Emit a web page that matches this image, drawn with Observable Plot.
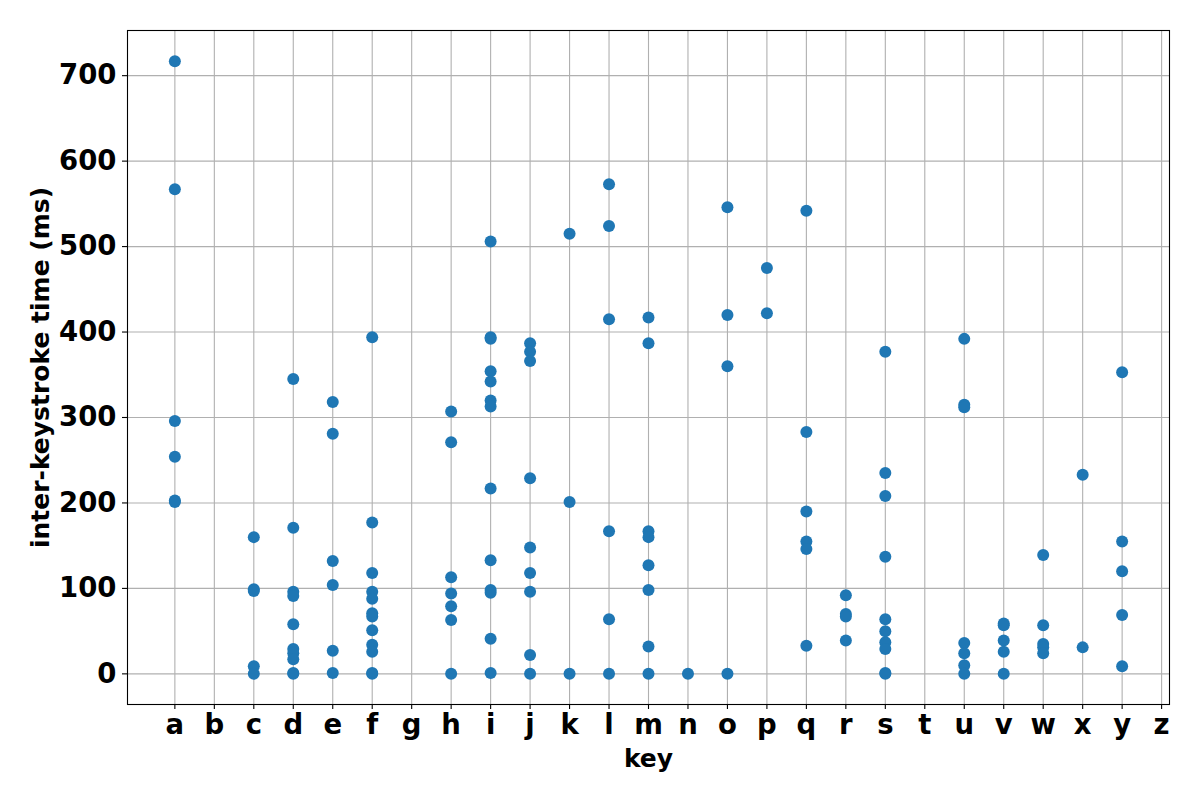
<!DOCTYPE html>
<html>
<head>
<meta charset="utf-8">
<script src="https://cdn.jsdelivr.net/npm/d3@7"></script>
<script src="https://cdn.jsdelivr.net/npm/@observablehq/plot@0.6"></script>
<style>
  html, body { margin: 0; padding: 0; background: #fff; }
  #chart svg { display: block; }
</style>
</head>
<body>
<div id="chart"></div>
<script>
// Category labels (x axis)
const keys = ["a","b","c","d","e","f","g","h","i","j","k","l","m","n","o","p","q","r","s","t","u","v","w","x","y","z"];

// Inter-keystroke times (ms) observed for each key, in the order of `keys`
const timesA = [717, 567, 296, 254, 203, 201];
const timesB = [];
const timesC = [160, 99, 97, 9, 0];
const timesD = [345, 171, 96, 91, 58, 29, 24, 17, 1, 0];
const timesE = [318, 281, 132, 104, 27, 1];
const timesF = [394, 177, 118, 96, 88, 71, 67, 51, 34, 26, 1, 0];
const timesG = [];
const timesH = [307, 271, 113, 94, 79, 63, 0];
const timesI = [506, 394, 392, 354, 342, 320, 313, 217, 133, 98, 95, 41, 1];
const timesJ = [387, 377, 366, 229, 148, 118, 96, 22, 0];
const timesK = [515, 201, 0];
const timesL = [573, 524, 415, 167, 64, 0];
const timesM = [417, 387, 167, 160, 127, 98, 32, 0];
const timesN = [0];
const timesO = [546, 420, 360, 0];
const timesP = [475, 422];
const timesQ = [542, 283, 190, 155, 146, 33];
const timesR = [92, 70, 67, 39];
const timesS = [377, 235, 208, 137, 64, 50, 37, 29, 1, 0];
const timesT = [];
const timesU = [392, 315, 312, 36, 24, 10, 0];
const timesV = [59, 57, 39, 26, 0];
const timesW = [139, 57, 35, 31, 24];
const timesX = [233, 31];
const timesY = [353, 155, 120, 69, 9];
const timesZ = [];

const timesByKey = [timesA, timesB, timesC, timesD, timesE, timesF, timesG, timesH, timesI, timesJ,
  timesK, timesL, timesM, timesN, timesO, timesP, timesQ, timesR, timesS, timesT, timesU, timesV,
  timesW, timesX, timesY, timesZ];

const yTicks = [0, 100, 200, 300, 400, 500, 600, 700];

const data = keys.flatMap((k, i) => timesByKey[i].map(t => ({i, key: k, t})));

// matplotlib-like autoscale margins (5%) on the data extent
const usedIdx = data.map(d => d.i);
const xMin = d3.min(usedIdx), xMax = d3.max(usedIdx);
const xPad = (xMax - xMin) * 0.05;
const yMin = d3.min(data, d => d.t), yMax = d3.max(data, d => d.t);
const yPad = (yMax - yMin) * 0.05;

const font = "DejaVu Sans, sans-serif";

const chart = Plot.plot({
  width: 1200,
  height: 800,
  marginLeft: 127,
  marginRight: 31,
  marginTop: 30,
  marginBottom: 96,
  style: {fontFamily: font, fontWeight: "bold", background: "#fff", color: "#000"},
  x: {type: "linear", domain: [xMin - xPad, xMax + xPad]},
  y: {type: "linear", domain: [yMin - yPad, yMax + yPad]},
  marks: [
    Plot.gridX(d3.range(keys.length), {stroke: "#b0b0b0", strokeOpacity: 1, strokeWidth: 1.1}),
    Plot.gridY(yTicks, {stroke: "#b0b0b0", strokeOpacity: 1, strokeWidth: 1.1}),
    Plot.dot(data, {x: "i", y: "t", r: 6, fill: "#1f77b4", stroke: "none"}),
    Plot.frame({stroke: "#000", strokeWidth: 1.1}),
    Plot.axisX(d3.range(keys.length), {
      tickFormat: i => keys[i], tickSize: 5, tickPadding: 5, fontSize: 27.5, label: null,
      fontWeight: "bold", strokeWidth: 1.1
    }),
    Plot.axisY(yTicks, {
      tickSize: 5, tickPadding: 6, fontSize: 27.5, label: null, fontWeight: "bold", strokeWidth: 1.1
    }),
    Plot.text(["key"], {frameAnchor: "bottom", dy: 54, lineAnchor: "middle", fontSize: 25, fontWeight: "bold", fill: "#000"}),
    Plot.text(["inter-keystroke time (ms)"], {frameAnchor: "left", dx: -87, rotate: -90, textAnchor: "middle", lineAnchor: "middle", fontSize: 25, fontWeight: "bold", fill: "#000"})
  ]
});

document.getElementById("chart").appendChild(chart);
</script>
</body>
</html>
